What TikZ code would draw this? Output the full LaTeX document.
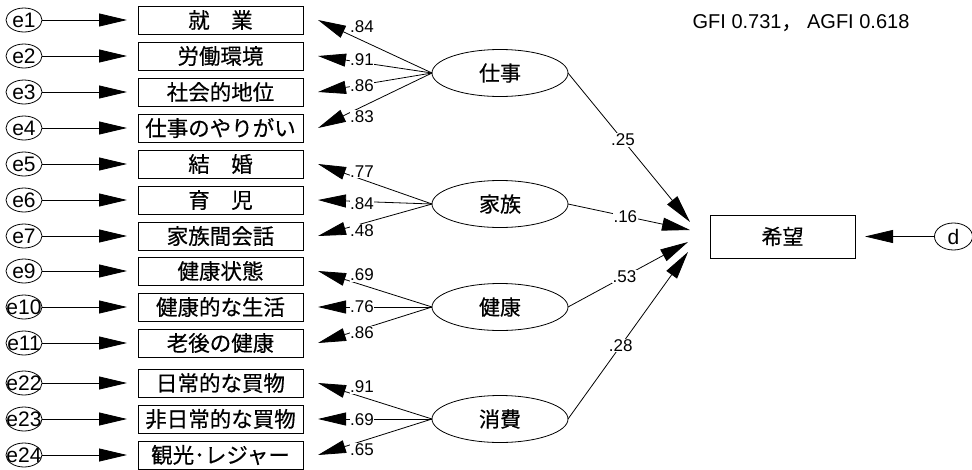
\documentclass[tikz,border=0pt]{standalone}
\usepackage{fontspec}
\setmainfont{Liberation Sans}
\newfontfamily\jp[FakeBold=0.4]{Noto Sans CJK JP}
\usetikzlibrary{arrows.meta,shapes.geometric}
\begin{document}
\begin{tikzpicture}[x=1pt,y=-1pt,
  every node/.style={inner sep=0pt,outer sep=0pt},
  obs/.style={draw,line width=0.8pt,minimum width=165pt,minimum height=28pt,font=\jp\fontsize{21.5}{21.5}\selectfont},
  err/.style={draw,ellipse,line width=0.8pt,minimum width=36pt,minimum height=24pt,
    label={[font=\fontsize{21}{21}\selectfont]center:#1}},
  lat/.style={draw,ellipse,line width=0.8pt,minimum width=136pt,minimum height=47pt,font=\jp\fontsize{21}{21}\selectfont},
  arr/.style={line width=0.8pt,-{Triangle[length=28pt,width=13pt]}},
  coef/.style={fill=white,inner sep=0.6pt,font=\fontsize{17}{17}\selectfont},
]
\useasboundingbox (0,0) rectangle (972,469);

% observed variables and errors
\foreach \i/\e/\y/\t in {1/e1/20/{就　業},2/e2/56/労働環境,3/e3/92/社会的地位,4/e4/128/仕事のやりがい,
  5/e5/164/{結　婚},6/e6/200/{育　児},7/e7/236/家族間会話,8/e9/271/健康状態,9/e10/307/健康的な生活,
  10/e11/343/老後の健康,11/e22/383/日常的な買物,12/e23/419/非日常的な買物,13/e24/455/観光･レジャー}{
  \node[err=\e] (e\i) at (24,\y) {};
  \node[obs] (b\i) at (220.5,\y) {\t};
  \draw[arr] (e\i) -- ([xshift=-11pt]b\i.west);
}

% latent variables
\node[lat] (work) at (500,73) {仕事};
\node[lat] (fam) at (500,204) {家族};
\node[lat] (hlth) at (500,307) {健康};
\node[lat] (cons) at (500,419) {消費};

\foreach \i/\lx/\ly/\v in {1/362/27/.84,2/362/60/.91,3/362/86/.86,4/362/117/.83}{
  \draw[arr] (work.west) -- ([xshift=15pt]b\i.east);
  \node[coef] (cl\i) at (\lx,\ly) {\v};
}
\foreach \i/\lx/\ly/\v in {5/362/172/.77,6/362/204/.84,7/362/231/.48}{
  \draw[arr] (fam.west) -- ([xshift=15pt]b\i.east);
  \node[coef] (cl\i) at (\lx,\ly) {\v};
}
\foreach \i/\lx/\ly/\v in {8/362/275/.69,9/362/307/.76,10/362/333/.86}{
  \draw[arr] (hlth.west) -- ([xshift=15pt]b\i.east);
  \node[coef] (cl\i) at (\lx,\ly) {\v};
}
\foreach \i/\lx/\ly/\v in {11/362/387/.91,12/362/420/.69,13/362/450/.65}{
  \draw[arr] (cons.west) -- ([xshift=15pt]b\i.east);
  \node[coef] (cl\i) at (\lx,\ly) {\v};
}

% outcome
\node[draw,line width=0.8pt,minimum width=145pt,minimum height=43pt,font=\jp\fontsize{21}{21}\selectfont] (hope) at (782.5,236.5) {希望};
\node[err=d,minimum width=38pt,minimum height=27pt] (d) at (953.5,236.5) {};
\draw[arr] (d) -- ([xshift=10pt]hope.east);

\draw[arr] (work.east) -- node[coef,pos=0.45] (s1) {.25} ([shift={(-20,-14.5)}]hope.west);
\draw[arr] (fam.east) -- node[coef,pos=0.47] (s2) {.16} ([shift={(-20,-6.5)}]hope.west);
\draw[arr] (hlth.east) -- node[coef,pos=0.47] (s3) {.53} ([shift={(-22,5.5)}]hope.west);
\draw[arr] (cons.east) -- node[coef,pos=0.44] (s4) {.28} ([shift={(-22,15.5)}]hope.west);

\node[font=\fontsize{20}{20}\selectfont] (fit) at (801,23) {GFI 0.731{\jp ，} AGFI 0.618};
\end{tikzpicture}
\end{document}
